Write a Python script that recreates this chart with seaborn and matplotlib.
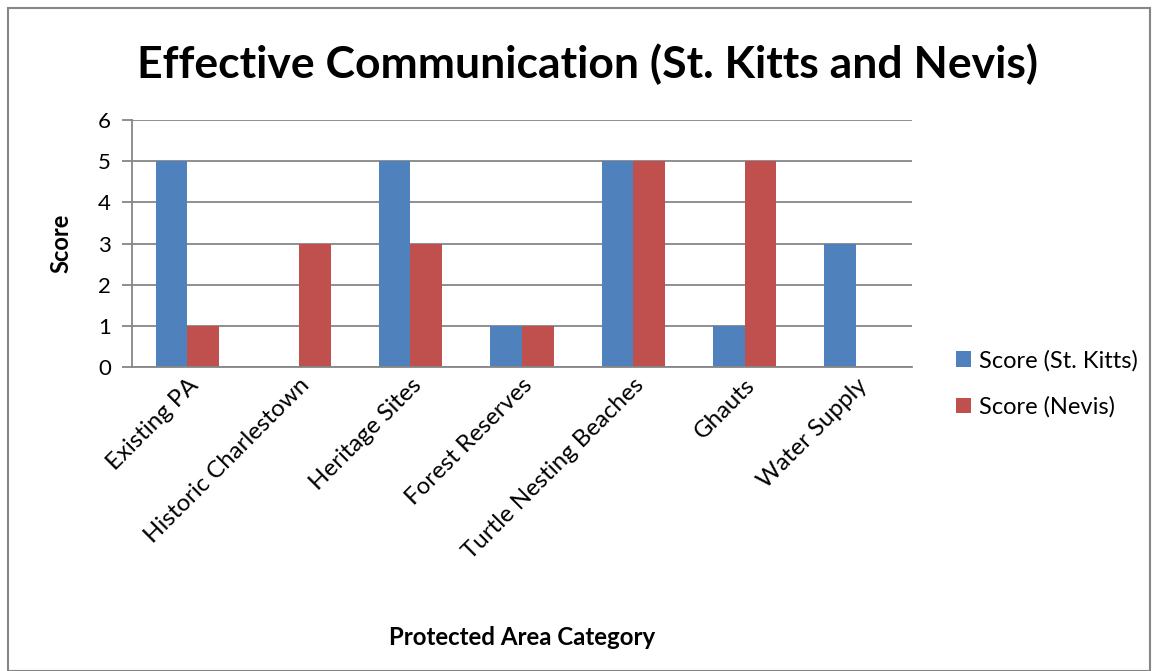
import matplotlib
matplotlib.use("Agg")
import matplotlib.pyplot as plt
import seaborn as sns
import pandas as pd
from matplotlib.patches import Rectangle, Patch

categories = ["Existing PA", "Historic Charlestown", "Heritage Sites", "Forest Reserves",
              "Turtle Nesting Beaches", "Ghauts", "Water Supply"]
st_kitts = [5, 0, 5, 1, 5, 1, 3]
nevis = [1, 3, 3, 1, 5, 5, 0]
series_names = ["Score (St. Kitts)", "Score (Nevis)"]
colors = ["#4F81BD", "#C0504D"]

sns.set_style("white")
plt.rcParams['font.family'] = ['Lato', 'DejaVu Sans']
plt.rcParams['text.color'] = 'black'
plt.rcParams['axes.labelcolor'] = 'black'

df = pd.DataFrame({
    "Category": categories * 2,
    "Score": st_kitts + nevis,
    "Series": [series_names[0]] * len(categories) + [series_names[1]] * len(categories),
})

fig = plt.figure(figsize=(11.52, 6.71), dpi=100)
ax = fig.add_axes([0.1143, 0.453, 0.6773, 0.368])

sns.barplot(data=df, x="Category", y="Score", hue="Series", palette=colors,
            width=0.569, gap=0, saturation=1, ax=ax, legend=False, edgecolor="none")

ax.set_ylim(0, 6)
ax.set_xlim(-0.5, len(categories) - 0.5)
ax.set_yticks(range(0, 7))
ax.yaxis.grid(True, color="#868686", linewidth=1.3)
ax.set_axisbelow(True)
for s in ["top", "right"]:
    ax.spines[s].set_visible(False)
for s in ["left", "bottom"]:
    ax.spines[s].set_color("#868686")
    ax.spines[s].set_linewidth(1.3)

ax.tick_params(axis="y", which="both", left=True, length=7, width=1.3, color="#868686",
               labelsize=16, labelcolor="black", pad=8)
ax.tick_params(axis="x", bottom=False, labelsize=17.3, labelcolor="black", pad=2)
ax.set_xticks(range(len(categories)))
ax.set_xticklabels(categories, rotation=45, ha="right", rotation_mode="anchor")

ax.set_ylabel("Score", fontsize=17, fontweight="bold")
ax.yaxis.set_label_coords(-0.076, 0.5)
ax.set_xlabel("Protected Area Category", fontsize=17.3, fontweight="bold")
ax.xaxis.set_label_coords(0.5, -1.05)

fig.suptitle("Effective Communication (St. Kitts and Nevis)", x=0.51, y=0.935,
             fontsize=32, fontweight="bold")

handles = [Patch(facecolor=c, edgecolor="none") for c in colors]
fig.legend(handles, series_names, loc="center left", bbox_to_anchor=(0.811, 0.428),
           frameon=False, fontsize=17, handlelength=0.65, handleheight=0.65,
           handletextpad=0.35, labelspacing=1.05)

fig.patches.append(Rectangle((8 / 1152, 0), (1150 - 8) / 1152, 1 - 8 / 671,
                             transform=fig.transFigure, fill=False,
                             edgecolor="#868686", linewidth=1.5))

fig.savefig("out.png", dpi=100)
